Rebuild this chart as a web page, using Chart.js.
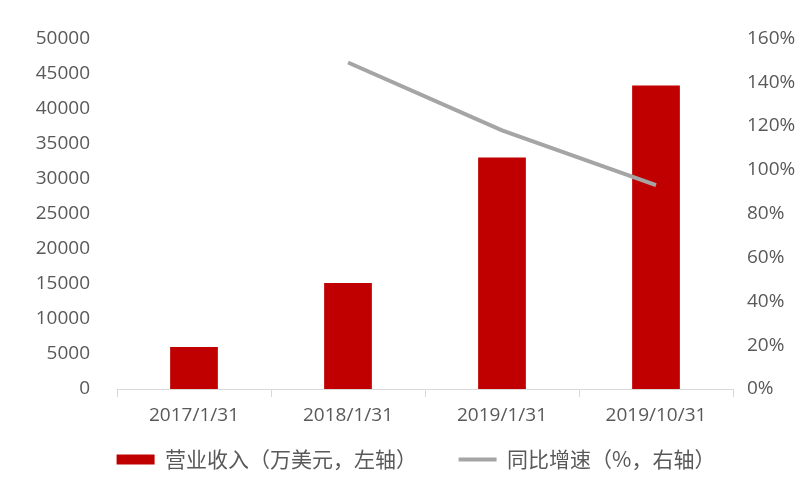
<!DOCTYPE html>
<html>
<head>
<meta charset="utf-8">
<script src="https://cdn.jsdelivr.net/npm/chart.js@4/dist/chart.umd.min.js"></script>
<style>
  html,body{margin:0;padding:0;background:#fff;}
  #wrap{width:800px;height:484px;}
</style>
</head>
<body>
<div id="wrap"><canvas id="barLine" width="800" height="484"></canvas></div>
<script>
const categories = ['2017/1/31','2018/1/31','2019/1/31','2019/10/31'];
const revenue = [6000, 15100, 33000, 43300];
const growth = [null, 149, 118, 93];
const leftTicks = [0,5000,10000,15000,20000,25000,30000,35000,40000,45000,50000];
const rightTicks = [0,20,40,60,80,100,120,140,160];

const tickFont = {family:'"Open Sans", "Noto Sans", sans-serif', size:19};
const cjkFont = {family:'"Noto Sans CJK SC", sans-serif', size:21};

const ctx = document.getElementById('barLine');
new Chart(ctx, {
  type:'bar',
  data:{
    labels:categories,
    datasets:[
      {type:'line',label:'同比增速（%，右轴）',data:growth,yAxisID:'y1',borderColor:'#A5A5A5',backgroundColor:'#A5A5A5',borderWidth:4,pointRadius:0,tension:0,spanGaps:true,pointStyle:'line',order:0},
      // trailing ideographic spaces widen the gap to the next legend item
      {type:'bar',label:'营业收入（万美元，左轴）\u3000\u3000',data:revenue,yAxisID:'y',backgroundColor:'#C00000',borderWidth:0,categoryPercentage:1,barPercentage:0.31,pointStyle:'rect',order:1}
    ]
  },
  options:{
    responsive:false,
    animation:false,
    layout:{padding:{top:35,left:32,right:0,bottom:4}},
    plugins:{
      tooltip:{enabled:false},
      legend:{
        position:'bottom',
        reverse:true,
        labels:{usePointStyle:true,pointStyleWidth:38,boxHeight:10,padding:10,color:'#595959',font:cjkFont}
      }
    },
    scales:{
      x:{
        grid:{display:true,drawOnChartArea:false,drawTicks:true,tickLength:8,color:'#D9D9D9',offset:true},
        border:{display:true,color:'#D9D9D9',width:1},
        ticks:{color:'#595959',font:tickFont,padding:7,maxRotation:0},
        afterFit:s=>{s.height=50;}
      },
      y:{
        position:'left',min:0,max:50000,
        grid:{display:false,drawTicks:false},
        border:{display:false},
        afterBuildTicks:s=>{s.ticks=leftTicks.map(v=>({value:v}));},
        ticks:{color:'#595959',font:tickFont,padding:27,callback:v=>String(v)},
        afterFit:s=>{s.width=85;}
      },
      y1:{
        position:'right',min:0,max:160,
        grid:{display:false,drawTicks:false},
        border:{display:false},
        afterBuildTicks:s=>{s.ticks=rightTicks.map(v=>({value:v}));},
        ticks:{color:'#595959',font:tickFont,padding:14,callback:v=>v+'%'},
        afterFit:s=>{s.width=67;}
      }
    }
  }
});
</script>
</body>
</html>
